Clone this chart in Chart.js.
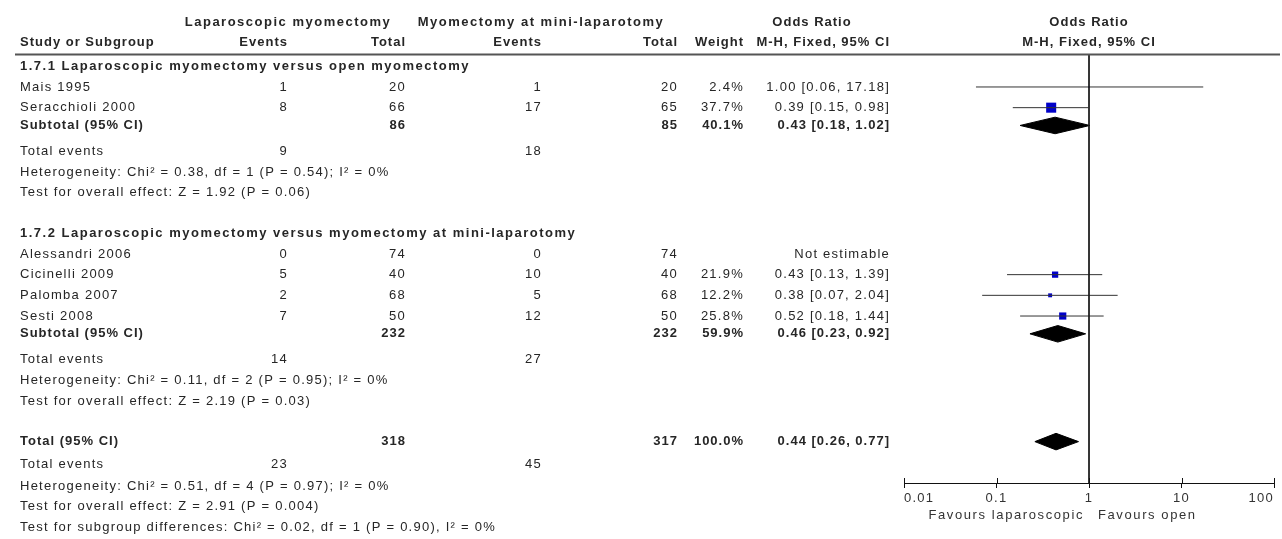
<!DOCTYPE html>
<html>
<head>
<meta charset="utf-8">
<script src="https://cdn.jsdelivr.net/npm/chart.js@4.4.1/dist/chart.umd.min.js"></script>
<style>
  html, body { margin: 0; padding: 0; background: #fff; }
  #wrap { width: 1282px; height: 539px; position: relative; }
</style>
</head>
<body>
<div id="wrap"><canvas id="forest"></canvas></div>
<script>
// ---- study level data ----
const studyNames  = ['Mais 1995', 'Seracchioli 2000', 'Alessandri 2006', 'Cicinelli 2009', 'Palomba 2007', 'Sesti 2008'];
const studyGroup  = [0, 0, 1, 1, 1, 1];
const lapEvents   = [1, 8, 0, 5, 2, 7];
const lapTotals   = [20, 66, 74, 40, 68, 50];
const openEvents  = [1, 17, 0, 10, 5, 12];
const openTotals  = [20, 65, 74, 40, 68, 50];
const weights     = [2.4, 37.7, null, 21.9, 12.2, 25.8];
const orEstimate  = [1.00, 0.39, null, 0.43, 0.38, 0.52];
const orLower     = [0.06, 0.15, null, 0.13, 0.07, 0.18];
const orUpper     = [17.18, 0.98, null, 1.39, 2.04, 1.44];

// ---- subgroup data ----
const groupTitles     = ['1.7.1 Laparoscopic myomectomy versus open myomectomy',
                         '1.7.2 Laparoscopic myomectomy versus myomectomy at mini-laparotomy'];
const subLapTotals    = [86, 232];
const subOpenTotals   = [85, 232];
const subWeights      = [40.1, 59.9];
const subEstimate     = [0.43, 0.46];
const subLower        = [0.18, 0.23];
const subUpper        = [1.02, 0.92];
const subLapEvents    = [9, 14];
const subOpenEvents   = [18, 27];
const subHeterogeneity = ['Heterogeneity: Chi\u00b2 = 0.38, df = 1 (P = 0.54); I\u00b2 = 0%',
                          'Heterogeneity: Chi\u00b2 = 0.11, df = 2 (P = 0.95); I\u00b2 = 0%'];
const subOverallTest  = ['Test for overall effect: Z = 1.92 (P = 0.06)',
                         'Test for overall effect: Z = 2.19 (P = 0.03)'];

// ---- pooled data ----
const totalLapTotal   = 318;
const totalOpenTotal  = 317;
const totalWeight     = 100.0;
const totalEstimate   = 0.44;
const totalLower      = 0.26;
const totalUpper      = 0.77;
const totalLapEvents  = 23;
const totalOpenEvents = 45;
const totalHeterogeneity = 'Heterogeneity: Chi\u00b2 = 0.51, df = 4 (P = 0.97); I\u00b2 = 0%';
const totalOverallTest   = 'Test for overall effect: Z = 2.91 (P = 0.004)';
const subgroupDiffTest   = 'Test for subgroup differences: Chi\u00b2 = 0.02, df = 1 (P = 0.90), I\u00b2 = 0%';

// ---- axis ----
const xTickValues = [0.01, 0.1, 1, 10, 100];
const xTickLabels = ['0.01', '0.1', '1', '10', '100'];
const favoursLeft  = 'Favours laparoscopic';
const favoursRight = 'Favours open';

// ---- layout (row positions in line units, column x in px) ----
const LINE_ROWS = 23;             // rows between top of canvas and the axis line
const ROW_HDR1 = 0.76, ROW_HDR2 = 1.71, ROW_RULE = 2.29;
const COL = { name: 20, lapEv: 288, lapTot: 406, opEv: 542, opTot: 678, wt: 744, or: 890,
              lapHead: 288, opHead: 541, orHead: 812, ruleL: 15, ruleR: 1280 };
const DIAMOND_HALF = 0.4;
const BOX_COLOR = '#0000c8';
const TEXT_COLOR = '#262626';
const FONT = '"Liberation Sans", Arial, sans-serif';
const SPACING = { regular: '1.25px', bold: '1px', title: '1.5px' };

// build the row list
const rows = [];
let pos = 2.86;
for (let g = 0; g < groupTitles.length; g++) {
  rows.push({ kind: 'title', g, y: pos });
  studyNames.forEach((n, i) => {
    if (studyGroup[i] === g) { pos += 1; rows.push({ kind: 'study', i, y: pos }); }
  });
  pos += 0.86; rows.push({ kind: 'subtotal', g, y: pos });
  pos += 1.26; rows.push({ kind: 'events', g, y: pos });
  pos += 1;    rows.push({ kind: 'het', g, y: pos });
  pos += 1;    rows.push({ kind: 'test', g, y: pos });
  pos += 1.95;
}
const totalRow = pos;
rows.push({ kind: 'total', y: pos });
pos += 1.1;  rows.push({ kind: 'totalEvents', y: pos });
pos += 1.05; rows.push({ kind: 'totalHet', y: pos });
pos += 1;    rows.push({ kind: 'totalTest', y: pos });
pos += 1;    rows.push({ kind: 'subDiff', y: pos });

const fmt2 = v => v.toFixed(2);
const ciText = (e, l, u) => `${fmt2(e)} [${fmt2(l)}, ${fmt2(u)}]`;
// box side grows with the study weight
const boxRadius = w => (1 + 0.24 * w) / Math.SQRT2;

// ---- datasets ----
const datasets = [];
// reference line at OR = 1
datasets.push({
  data: [{ x: 1, y: ROW_RULE }, { x: 1, y: LINE_ROWS }],
  showLine: true, borderColor: '#1a1a1a', borderWidth: 1, pointRadius: 0
});
// confidence intervals
rows.filter(r => r.kind === 'study' && orEstimate[r.i] !== null).forEach(r => {
  datasets.push({
    data: [{ x: orLower[r.i], y: r.y }, { x: orUpper[r.i], y: r.y }],
    showLine: true, borderColor: '#333', borderWidth: 1, pointRadius: 0
  });
});
// weighted boxes
const boxRows = rows.filter(r => r.kind === 'study' && orEstimate[r.i] !== null);
datasets.push({
  data: boxRows.map(r => ({ x: orEstimate[r.i], y: r.y })),
  pointStyle: 'rect',
  pointRadius: boxRows.map(r => boxRadius(weights[r.i])),
  pointHoverRadius: boxRows.map(r => boxRadius(weights[r.i])),
  backgroundColor: BOX_COLOR, borderColor: BOX_COLOR, borderWidth: 0
});
// pooled diamonds
function diamond(e, l, u, y) {
  return {
    data: [{ x: l, y }, { x: e, y: y - DIAMOND_HALF }, { x: u, y }, { x: e, y: y + DIAMOND_HALF }, { x: l, y }],
    showLine: true, fill: 'shape', tension: 0,
    backgroundColor: '#000', borderColor: '#000', borderWidth: 1, pointRadius: 0
  };
}
rows.filter(r => r.kind === 'subtotal').forEach(r => {
  datasets.push(diamond(subEstimate[r.g], subLower[r.g], subUpper[r.g], r.y));
});
datasets.push(diamond(totalEstimate, totalLower, totalUpper, totalRow));

// ---- table text and axis decorations ----
const tablePlugin = {
  id: 'forestTable',
  beforeDraw(chart) {
    // tick labels share the spaced-out look of the table text
    chart.ctx.letterSpacing = SPACING.regular;
  },
  afterDraw(chart) {
    const ctx = chart.ctx;
    const ys = chart.scales.y, xs = chart.scales.x;
    const Y = v => ys.getPixelForValue(v);
    // style: 'regular' | 'bold' | 'title'
    function t(s, x, y, align, style) {
      ctx.font = (style === 'regular' ? '' : 'bold ') + '13px ' + FONT;
      ctx.letterSpacing = SPACING[style];
      ctx.textAlign = align;
      ctx.textBaseline = 'middle';
      ctx.fillStyle = TEXT_COLOR;
      ctx.fillText(String(s), x, Y(y));
    }
    const R = 'regular', B = 'bold', T = 'title';
    ctx.save();

    // header lines
    const plotMid = xs.getPixelForValue(1);
    t('Laparoscopic myomectomy', COL.lapHead, ROW_HDR1, 'center', T);
    t('Myomectomy at mini-laparotomy', COL.opHead, ROW_HDR1, 'center', T);
    t('Odds Ratio', COL.orHead, ROW_HDR1, 'center', B);
    t('Odds Ratio', plotMid, ROW_HDR1, 'center', B);
    t('Study or Subgroup', COL.name, ROW_HDR2, 'left', B);
    t('Events', COL.lapEv, ROW_HDR2, 'right', B);
    t('Total', COL.lapTot, ROW_HDR2, 'right', B);
    t('Events', COL.opEv, ROW_HDR2, 'right', B);
    t('Total', COL.opTot, ROW_HDR2, 'right', B);
    t('Weight', COL.wt, ROW_HDR2, 'right', B);
    t('M-H, Fixed, 95% CI', COL.or, ROW_HDR2, 'right', B);
    t('M-H, Fixed, 95% CI', plotMid, ROW_HDR2, 'center', B);

    // rule under the header
    ctx.strokeStyle = '#555';
    ctx.lineWidth = 2;
    ctx.beginPath();
    ctx.moveTo(COL.ruleL, Y(ROW_RULE));
    ctx.lineTo(COL.ruleR, Y(ROW_RULE));
    ctx.stroke();

    rows.forEach(r => {
      switch (r.kind) {
        case 'title':
          t(groupTitles[r.g], COL.name, r.y, 'left', T); break;
        case 'study':
          t(studyNames[r.i], COL.name, r.y, 'left', R);
          t(lapEvents[r.i], COL.lapEv, r.y, 'right', R);
          t(lapTotals[r.i], COL.lapTot, r.y, 'right', R);
          t(openEvents[r.i], COL.opEv, r.y, 'right', R);
          t(openTotals[r.i], COL.opTot, r.y, 'right', R);
          if (orEstimate[r.i] === null) {
            t('Not estimable', COL.or, r.y, 'right', R);
          } else {
            t(weights[r.i].toFixed(1) + '%', COL.wt, r.y, 'right', R);
            t(ciText(orEstimate[r.i], orLower[r.i], orUpper[r.i]), COL.or, r.y, 'right', R);
          }
          break;
        case 'subtotal':
          t('Subtotal (95% CI)', COL.name, r.y, 'left', B);
          t(subLapTotals[r.g], COL.lapTot, r.y, 'right', B);
          t(subOpenTotals[r.g], COL.opTot, r.y, 'right', B);
          t(subWeights[r.g].toFixed(1) + '%', COL.wt, r.y, 'right', B);
          t(ciText(subEstimate[r.g], subLower[r.g], subUpper[r.g]), COL.or, r.y, 'right', B);
          break;
        case 'events':
          t('Total events', COL.name, r.y, 'left', R);
          t(subLapEvents[r.g], COL.lapEv, r.y, 'right', R);
          t(subOpenEvents[r.g], COL.opEv, r.y, 'right', R);
          break;
        case 'het':
          t(subHeterogeneity[r.g], COL.name, r.y, 'left', R); break;
        case 'test':
          t(subOverallTest[r.g], COL.name, r.y, 'left', R); break;
        case 'total':
          t('Total (95% CI)', COL.name, r.y, 'left', B);
          t(totalLapTotal, COL.lapTot, r.y, 'right', B);
          t(totalOpenTotal, COL.opTot, r.y, 'right', B);
          t(totalWeight.toFixed(1) + '%', COL.wt, r.y, 'right', B);
          t(ciText(totalEstimate, totalLower, totalUpper), COL.or, r.y, 'right', B);
          break;
        case 'totalEvents':
          t('Total events', COL.name, r.y, 'left', R);
          t(totalLapEvents, COL.lapEv, r.y, 'right', R);
          t(totalOpenEvents, COL.opEv, r.y, 'right', R);
          break;
        case 'totalHet':
          t(totalHeterogeneity, COL.name, r.y, 'left', R); break;
        case 'totalTest':
          t(totalOverallTest, COL.name, r.y, 'left', R); break;
        case 'subDiff':
          t(subgroupDiffTest, COL.name, r.y, 'left', R); break;
      }
    });

    // upper half of the axis tick marks
    const axisY = chart.chartArea.bottom;
    ctx.strokeStyle = '#111';
    ctx.lineWidth = 1;
    xTickValues.forEach(v => {
      const px = Math.round(xs.getPixelForValue(v)) + 0.5;
      ctx.beginPath();
      ctx.moveTo(px, axisY - 5);
      ctx.lineTo(px, axisY);
      ctx.stroke();
    });

    // favours labels
    ctx.font = '13px ' + FONT;
    ctx.letterSpacing = '1.6px';
    ctx.fillStyle = '#333';
    ctx.textBaseline = 'middle';
    ctx.textAlign = 'right';
    ctx.fillText(favoursLeft, plotMid - 5, axisY + 32);
    ctx.textAlign = 'left';
    ctx.fillText(favoursRight, plotMid + 9, axisY + 32);
    ctx.restore();
    ctx.letterSpacing = '0px';
  }
};

new Chart(document.getElementById('forest'), {
  type: 'scatter',
  data: { datasets },
  options: {
    responsive: true,
    maintainAspectRatio: false,
    animation: false,
    events: [],
    layout: { padding: { left: 904, right: 8, top: 0, bottom: 0 } },
    plugins: { legend: { display: false }, tooltip: { enabled: false } },
    scales: {
      x: {
        type: 'logarithmic',
        min: 0.01, max: 100,
        afterBuildTicks: s => { s.ticks = xTickValues.map(v => ({ value: v })); },
        afterFit: s => { s.height = 56; },
        ticks: {
          align: 'inner', padding: 3, color: '#333',
          font: { family: '"Liberation Sans", Arial, sans-serif', size: 13 },
          callback: (v) => xTickLabels[xTickValues.indexOf(v)] ?? ''
        },
        grid: { display: true, drawOnChartArea: false, drawTicks: true, tickLength: 5, color: '#111' },
        border: { display: true, color: '#111', width: 1 }
      },
      y: {
        type: 'linear', min: 0, max: LINE_ROWS, reverse: true, display: false
      }
    }
  },
  plugins: [tablePlugin]
});
</script>
</body>
</html>
